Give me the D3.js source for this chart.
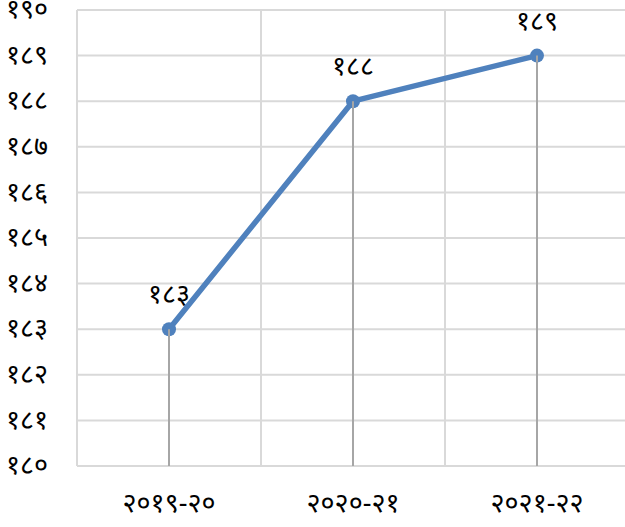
<!DOCTYPE html>
<html><head><meta charset="utf-8">
<script src="https://cdn.jsdelivr.net/npm/d3@7"></script>
<style>body{margin:0;background:#fff}svg{display:block}text{font-family:"Noto Sans","Noto Sans Devanagari","DejaVu Sans",sans-serif;fill:#000}</style>
</head><body>
<svg id="c" width="625" height="527"></svg>
<script>
const categories = ["२०१९-२०", "२०२०-२१", "२०२१-२२"];
const values = [183, 188, 189];
const valueLabels = ["१८३", "१८८", "१८९"];
const yTicks = [180,181,182,183,184,185,186,187,188,189,190];
const yTickLabels = ["१८०","१८१","१८२","१८३","१८४","१८५","१८६","१८७","१८८","१८९","१९०"];

const svg = d3.select("#c");
const mLeft = 77, mRight = 629, mTop = 10, mBottom = 466;
const x = d3.scaleBand().domain(categories).range([mLeft, mRight]);
const y = d3.scaleLinear().domain([180, 190]).range([mBottom, mTop]);

svg.append("g").selectAll("line").data(yTicks).join("line")
  .attr("x1", mLeft).attr("x2", mRight)
  .attr("y1", d => y(d)).attr("y2", d => y(d))
  .attr("stroke", "#d9d9d9").attr("stroke-width", 2);
const edges = categories.map(c => x(c)).concat([mRight]);
svg.append("g").selectAll("line").data(edges).join("line")
  .attr("x1", d => d).attr("x2", d => d)
  .attr("y1", mTop).attr("y2", mBottom)
  .attr("stroke", "#d9d9d9").attr("stroke-width", 2);

svg.append("g").selectAll("text").data(yTicks).join("text")
  .attr("x", 48).attr("y", d => y(d)).attr("dy", "0.3em")
  .attr("text-anchor", "end").attr("font-size", 27)
  .text((d, i) => yTickLabels[i]);

svg.append("g").selectAll("text").data(categories).join("text")
  .attr("x", d => x(d) + x.bandwidth() / 2).attr("y", 512)
  .attr("text-anchor", "middle").attr("font-size", 27)
  .text(d => d);

const cx = d => x(d) + x.bandwidth() / 2;
svg.append("g").selectAll("line").data(categories).join("line")
  .attr("x1", cx).attr("x2", cx)
  .attr("y1", (d, i) => y(values[i])).attr("y2", mBottom)
  .attr("stroke", "#a6a6a6").attr("stroke-width", 2);

const line = d3.line().x((d, i) => cx(categories[i])).y(d => y(d));
svg.append("path").datum(values).attr("d", line)
  .attr("fill", "none").attr("stroke", "#4f81bd").attr("stroke-width", 5.5)
  .attr("stroke-linejoin", "round");
svg.append("g").selectAll("circle").data(values).join("circle")
  .attr("cx", (d, i) => cx(categories[i])).attr("cy", d => y(d))
  .attr("r", 7).attr("fill", "#4f81bd");
svg.append("g").selectAll("line").data(categories).join("line")
  .attr("x1", cx).attr("x2", cx)
  .attr("y1", (d, i) => y(values[i])).attr("y2", (d, i) => y(values[i]) + 7)
  .attr("stroke", "#a6a6a6").attr("stroke-width", 2);

svg.append("g").selectAll("text").data(values).join("text")
  .attr("x", (d, i) => cx(categories[i])).attr("y", d => y(d) - 34).attr("dy", "0.3em")
  .attr("text-anchor", "middle").attr("font-size", 27)
  .text((d, i) => valueLabels[i]);
</script>
</body></html>
